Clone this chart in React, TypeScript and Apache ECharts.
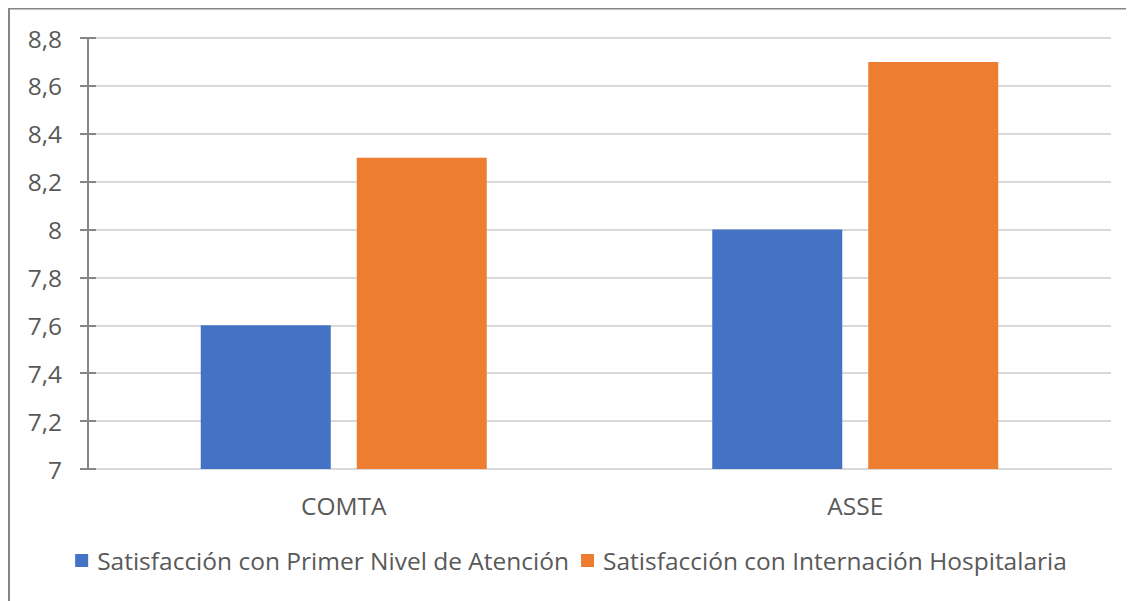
import React, { useEffect, useRef } from "react";
import * as echarts from "echarts";

const categories = ["COMTA", "ASSE"];
const seriesNames = [
  "Satisfacción con Primer Nivel de Atención",
  "Satisfacción con Internación Hospitalaria",
];
const primerNivel = [7.6, 8.0];
const internacion = [8.3, 8.7];
const yMin = 7;
const yMax = 8.8;
const yStep = 0.2;

const FONT = "Open Sans";
const TEXT = "#595959";
const FS = 24.5;

export default function App() {
  const ref = useRef<HTMLDivElement>(null);
  useEffect(() => {
    if (!ref.current) return;
    const chart = echarts.init(ref.current, undefined, { renderer: "svg" });
    const fmt = (v: number) => {
      const r = Math.round(v * 10) / 10;
      return String(r).replace(".", ",");
    };
    chart.setOption({
      animation: false,
      textStyle: { fontFamily: FONT },
      grid: { left: 80, right: 23, top: 30, bottom: 132, containLabel: false },
      legend: {
        data: seriesNames,
        bottom: 23,
        left: "center",
        itemWidth: 13,
        itemHeight: 13,
        itemGap: 12,
        icon: "rect",
        textStyle: { color: TEXT, fontSize: FS, fontFamily: FONT, padding: [0, 0, 0, 4] },
      },
      xAxis: {
        type: "category",
        data: categories,
        axisLine: { show: true, lineStyle: { color: "#d9d9d9", width: 2 } },
        axisTick: { show: false },
        axisLabel: { color: TEXT, fontSize: FS, fontFamily: FONT, margin: 24 },
      },
      yAxis: [
        {
          type: "value",
          min: yMin,
          max: yMax,
          interval: yStep,
          axisLine: { show: true, lineStyle: { color: "#868686", width: 2 } },
          axisTick: { show: true, length: 8, lineStyle: { color: "#868686", width: 2 } },
          axisLabel: { color: TEXT, fontSize: FS, fontFamily: FONT, margin: 26, formatter: fmt },
          splitLine: { show: true, lineStyle: { color: "#d9d9d9", width: 2 } },
        },
        {
          type: "value",
          min: yMin,
          max: yMax,
          interval: yStep,
          position: "left",
          axisLine: { show: false },
          axisTick: { show: true, inside: true, length: 8, lineStyle: { color: "#868686", width: 2 } },
          axisLabel: { show: false },
          splitLine: { show: false },
        },
      ],
      series: [
        {
          name: seriesNames[0],
          type: "bar",
          data: primerNivel,
          barWidth: 130,
          barGap: "20%",
          itemStyle: { color: "#4472C4" },
          z: 3,
        },
        {
          name: seriesNames[1],
          type: "bar",
          data: internacion,
          barWidth: 130,
          barGap: "20%",
          itemStyle: { color: "#ED7D31" },
          z: 3,
        },
      ],
      graphic: [
        { type: "line", shape: { x1: 0, y1: 0, x2: 1126, y2: 0 }, style: { stroke: "#868686", lineWidth: 3 } },
        { type: "line", shape: { x1: 1, y1: 0, x2: 1, y2: 593 }, style: { stroke: "#868686", lineWidth: 2 } },
      ],
    });
    return () => chart.dispose();
  }, []);
  return <div ref={ref} style={{ width: 1126, height: 593 }} />;
}
